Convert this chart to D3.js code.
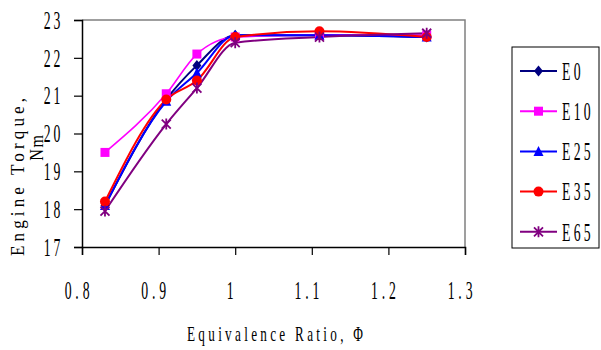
<!DOCTYPE html>
<html><head><meta charset="utf-8">
<script src="https://cdn.jsdelivr.net/npm/d3@7"></script>
<style>
html,body{margin:0;padding:0;background:#fff;}
svg{display:block;}
</style></head>
<body>
<svg id="chart" width="601" height="350"></svg>
<script>
// ---- data ----
const phi = [0.83, 0.91, 0.95, 1.0, 1.11, 1.25];
const E0  = [18.10, 20.90, 21.80, 22.60, 22.60, 22.55];
const E10 = [19.50, 21.05, 22.10, 22.55, 22.60, 22.60];
const E25 = [18.10, 20.85, 21.60, 22.60, 22.60, 22.55];
const E35 = [18.20, 20.90, 21.40, 22.55, 22.70, 22.55];
const E65 = [17.95, 20.25, 21.20, 22.40, 22.55, 22.65];
const seriesNames = ["E0", "E10", "E25", "E35", "E65"];
const xTicks = [0.8, 0.9, 1.0, 1.1, 1.2, 1.3];
const yTicks = [17, 18, 19, 20, 21, 22, 23];
const xTitle = "Equivalence Ratio, \u03A6";
const yTitle1 = "Engine Torque,";
const yTitle2 = "Nm";

const seriesValues = [E0, E10, E25, E35, E65];
const colors = ["#000080", "#FF00FF", "#0000FF", "#FF0000", "#800080"];
const shapes = ["diamond", "square", "triangle", "circle", "asterisk"];

const svg = d3.select("#chart");
const FONT = "'Liberation Serif','Times New Roman',serif";
const L = 82, R = 465, T = 20, B = 247;
const x = d3.scaleLinear().domain([0.8, 1.3]).range([L, R]);
const y = d3.scaleLinear().domain([17, 23]).range([B, T]);

// frame (top & right gray)
svg.append("path").attr("d", `M${L},${T}H${R}V${B}`).attr("fill","none").attr("stroke","#808080").attr("stroke-width",1.5);

// helper for condensed, letter-spaced text
function ctext(g, str, px, py, opts) {
  const sx = opts.sx || 0.55;
  const t = g.append("text")
    .attr("transform", `translate(${px},${py}) scale(${sx},1)`)
    .attr("font-family", FONT)
    .attr("font-size", opts.size || 25)
    .attr("fill", "#000")
    .attr("text-anchor", opts.anchor || "middle")
    .attr("dy", opts.dy || "0.35em")
    .text(str);
  if (opts.width) t.attr("textLength", opts.width / sx).attr("lengthAdjust", "spacing");
  else if (opts.ls !== undefined) t.attr("letter-spacing", opts.ls);
  return t;
}

// axes
const xAxis = svg.append("g").attr("transform", `translate(0,${B})`)
  .call(d3.axisBottom(x).tickValues(xTicks).tickSize(8).tickFormat(""));
xAxis.select(".domain").attr("stroke","#000").attr("stroke-width",1.5);
xAxis.selectAll(".tick line").attr("stroke","#000").attr("stroke-width",1.2);
const yAxis = svg.append("g").attr("transform", `translate(${L},0)`)
  .call(d3.axisLeft(y).tickValues(yTicks).tickSize(8).tickFormat(""));
yAxis.select(".domain").attr("stroke","#000").attr("stroke-width",1.5);
yAxis.selectAll(".tick line").attr("stroke","#000").attr("stroke-width",1.2);

const labels = svg.append("g");
const fx = d3.format("");
xTicks.forEach(v => ctext(labels, fx(v), x(v) - 3, 290, {size: 25, sx: 0.55, ls: 7}));
yTicks.forEach(v => ctext(labels, String(v), 63, y(v), {size: 25, sx: 0.55, ls: 5, anchor: "end"}));

// titles
ctext(labels, xTitle, 275, 333, {size: 22, sx: 0.6, width: 176});
const yt = labels.append("g").attr("transform", "translate(17,177) rotate(-90)");
ctext(yt, yTitle1, 0, 0, {size: 19, sx: 0.9, width: 158});
const yt2 = labels.append("g").attr("transform", "translate(36,147) rotate(-90)");
ctext(yt2, yTitle2, 0, 0, {size: 19, sx: 0.85, ls: 2});

// markers
function marker(g, shape, color, cx, cy) {
  const s = 4.5;
  if (shape === "diamond") g.append("path").attr("d", `M${cx},${cy-s-1}L${cx+s},${cy}L${cx},${cy+s+1}L${cx-s},${cy}Z`).attr("fill", color);
  else if (shape === "square") g.append("rect").attr("x", cx-s).attr("y", cy-s).attr("width", 2*s).attr("height", 2*s).attr("fill", color);
  else if (shape === "triangle") g.append("path").attr("d", `M${cx},${cy-s-1}L${cx+s+0.5},${cy+s}L${cx-s-0.5},${cy+s}Z`).attr("fill", color);
  else if (shape === "circle") g.append("circle").attr("cx", cx).attr("cy", cy).attr("r", s+0.5).attr("fill", color);
  else if (shape === "asterisk") g.append("path")
      .attr("d", `M${cx-s},${cy-s}L${cx+s},${cy+s}M${cx-s},${cy+s}L${cx+s},${cy-s}M${cx},${cy-s-1}L${cx},${cy+s+1}`)
      .attr("stroke", color).attr("stroke-width", 1.8).attr("fill","none");
}

// series
const line = d3.line().x(d => x(d[0])).y(d => y(d[1])).curve(d3.curveMonotoneX);
const plot = svg.append("g");
seriesValues.forEach((vals, i) => {
  const pts = phi.map((p, j) => [p, vals[j]]);
  plot.append("path").attr("d", line(pts)).attr("fill","none")
    .attr("stroke", colors[i]).attr("stroke-width", i === 1 ? 1.6 : 2);
});
seriesValues.forEach((vals, i) => {
  phi.forEach((p, j) => marker(plot, shapes[i], colors[i], x(p), y(vals[j])));
});

// legend
const lg = svg.append("g");
lg.append("rect").attr("x", 512).attr("y", 47).attr("width", 87).attr("height", 201)
  .attr("fill","#fff").attr("stroke","#000").attr("stroke-width",1);
seriesNames.forEach((name, i) => {
  const ly = 71 + i * 40.2;
  lg.append("line").attr("x1", 520).attr("x2", 557).attr("y1", ly).attr("y2", ly)
    .attr("stroke", colors[i]).attr("stroke-width", 2);
  marker(lg, shapes[i], colors[i], 538.5, ly);
  ctext(lg, name, 562, ly, {size: 25, sx: 0.55, ls: 6, anchor: "start"});
});
</script>
</body></html>
